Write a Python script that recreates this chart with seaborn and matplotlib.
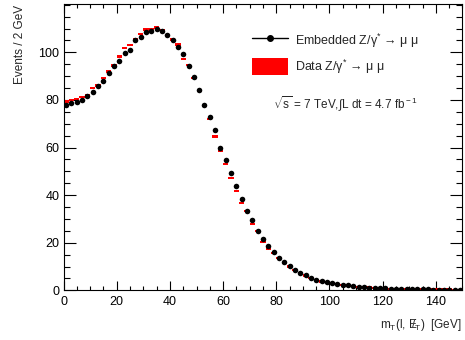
import numpy as np
import matplotlib
matplotlib.use("Agg")
import matplotlib.pyplot as plt
from matplotlib.lines import Line2D
from matplotlib.patches import Patch
from matplotlib.ticker import MultipleLocator, FixedLocator
import seaborn as sns

# bin centres (2 GeV bins from 0 to 150)
bin_centers = np.arange(1, 150, 2)

# embedded Z/gamma* -> mu mu (black points)
embedded = [
    77.9, 78.6, 79.3, 79.8, 81.6, 83.3, 85.8, 88.1, 91.4, 94.2,
    96.3, 99.6, 101.2, 105.4, 106.5, 108.4, 108.8, 109.7, 108.8, 107.1,
    105.4, 102.4, 99.4, 94.2, 89.5, 84.0, 78.1, 72.7, 67.3, 59.9,
    54.6, 49.4, 43.7, 38.2, 33.4, 29.6, 25.0, 21.7, 18.7, 16.0,
    13.8, 11.8, 10.1, 8.7, 7.4, 6.3, 5.2, 4.5, 3.9, 3.4,
    3.1, 2.6, 2.4, 2.1, 1.8, 1.6, 1.4, 1.2, 1.0, 0.9,
    0.8, 0.7, 0.65, 0.6, 0.55, 0.5, 0.45, 0.4, 0.4, 0.35,
    0.35, 0.3, 0.3, 0.3, 0.25,
]

# data Z/gamma* -> mu mu (red boxes)
data = [
    79.4, 80.0, 80.5, 81.3, 81.9, 85.0, 86.1, 89.2, 91.9, 94.5,
    98.3, 101.8, 103.2, 105.4, 107.7, 109.6, 109.8, 110.4, 109.4, 107.3,
    105.4, 103.3, 97.1, 94.7, 89.2, 83.7, 77.4, 72.0, 64.7, 58.5,
    53.1, 47.3, 41.8, 36.8, 33.3, 28.0, 25.0, 20.4, 17.5, 15.8,
    13.5, 11.6, 10.0, 8.6, 7.3, 6.2, 5.2, 4.4, 3.8, 3.4,
    3.0, 2.6, 2.3, 2.0, 1.8, 1.5, 1.3, 1.2, 1.0, 0.9,
    0.8, 0.7, 0.6, 0.6, 0.5, 0.5, 0.4, 0.4, 0.4, 0.3,
    0.3, 0.3, 0.3, 0.2, 0.2,
]
data_err = 0.5  # half height of the red error boxes

y_ticks = [0, 20, 40, 60, 80, 100]

sns.set_style("ticks")
plt.rcParams["font.family"] = ["Liberation Sans", "DejaVu Sans"]
plt.rcParams["mathtext.fontset"] = "custom"
plt.rcParams["mathtext.rm"] = "Liberation Sans"
plt.rcParams["mathtext.it"] = "Liberation Sans:italic"
plt.rcParams["mathtext.sf"] = "Liberation Sans"

fig = plt.figure(figsize=(4.65, 3.4), dpi=100)
ax = fig.add_axes([0.1366, 0.146, 0.858, 0.842])

# red data boxes
ax.bar(bin_centers, [2 * data_err] * len(data),
       bottom=np.array(data) - data_err, width=2.0,
       color="red", linewidth=0, zorder=2)

# black embedded points
sns.scatterplot(x=bin_centers, y=embedded, color="black", s=16,
                linewidth=0, ax=ax, zorder=3, legend=False)

ax.set_xlim(0, 150)
ax.set_ylim(0, 120.3)
ax.set_xlabel("")
ax.set_ylabel("")

ax.xaxis.set_major_locator(MultipleLocator(20))
ax.xaxis.set_minor_locator(MultipleLocator(5))
ax.yaxis.set_major_locator(FixedLocator(y_ticks))
ax.yaxis.set_minor_locator(MultipleLocator(5))
ax.tick_params(which="both", direction="in", top=True, right=True,
               width=0.8, labelsize=9, colors="black")
ax.tick_params(axis="x", which="major", length=6.2, pad=4)
ax.tick_params(axis="x", which="minor", length=3.1)
ax.tick_params(axis="y", which="major", length=8.6, pad=3)
ax.tick_params(axis="y", which="minor", length=4.3)
for sp in ax.spines.values():
    sp.set_linewidth(0.8)
    sp.set_color("black")

# axis titles (ROOT style, at the far ends)
fig.text(20 / 465, 1 - 5 / 340, "Events / 2 GeV", rotation=90,
         ha="center", va="top", fontsize=8.5)
fig.text(462 / 465, 1 - 328 / 340,
         r"m$_{\rm T}$(l, ${\rm E}\!\!\!/_{\rm T}$)  [GeV]",
         ha="right", va="baseline", fontsize=8.5)

# legend
handles = [
    Line2D([], [], color="black", marker="o", markersize=4, linewidth=1),
    Patch(facecolor="red", edgecolor="none"),
]
labels = ["Embedded Z/γ$^{*}$ → μ μ",
          "Data Z/γ$^{*}$ → μ μ"]
fig.legend(handles, labels, loc="upper left",
           bbox_to_anchor=(252 / 465, 1 - 31.4 / 340),
           frameon=False, fontsize=9, borderpad=0, borderaxespad=0,
           handlelength=2.9, handleheight=1.7, handletextpad=0.56,
           labelspacing=0.62)

fig.text(345 / 465, 1 - 104 / 340,
         r"$\sqrt{\rm s}$ = 7 TeV,$\int$L dt = 4.7 fb$^{\rm -1}$",
         ha="center", va="center", fontsize=8.5)

fig.savefig("out.png", dpi=100)
